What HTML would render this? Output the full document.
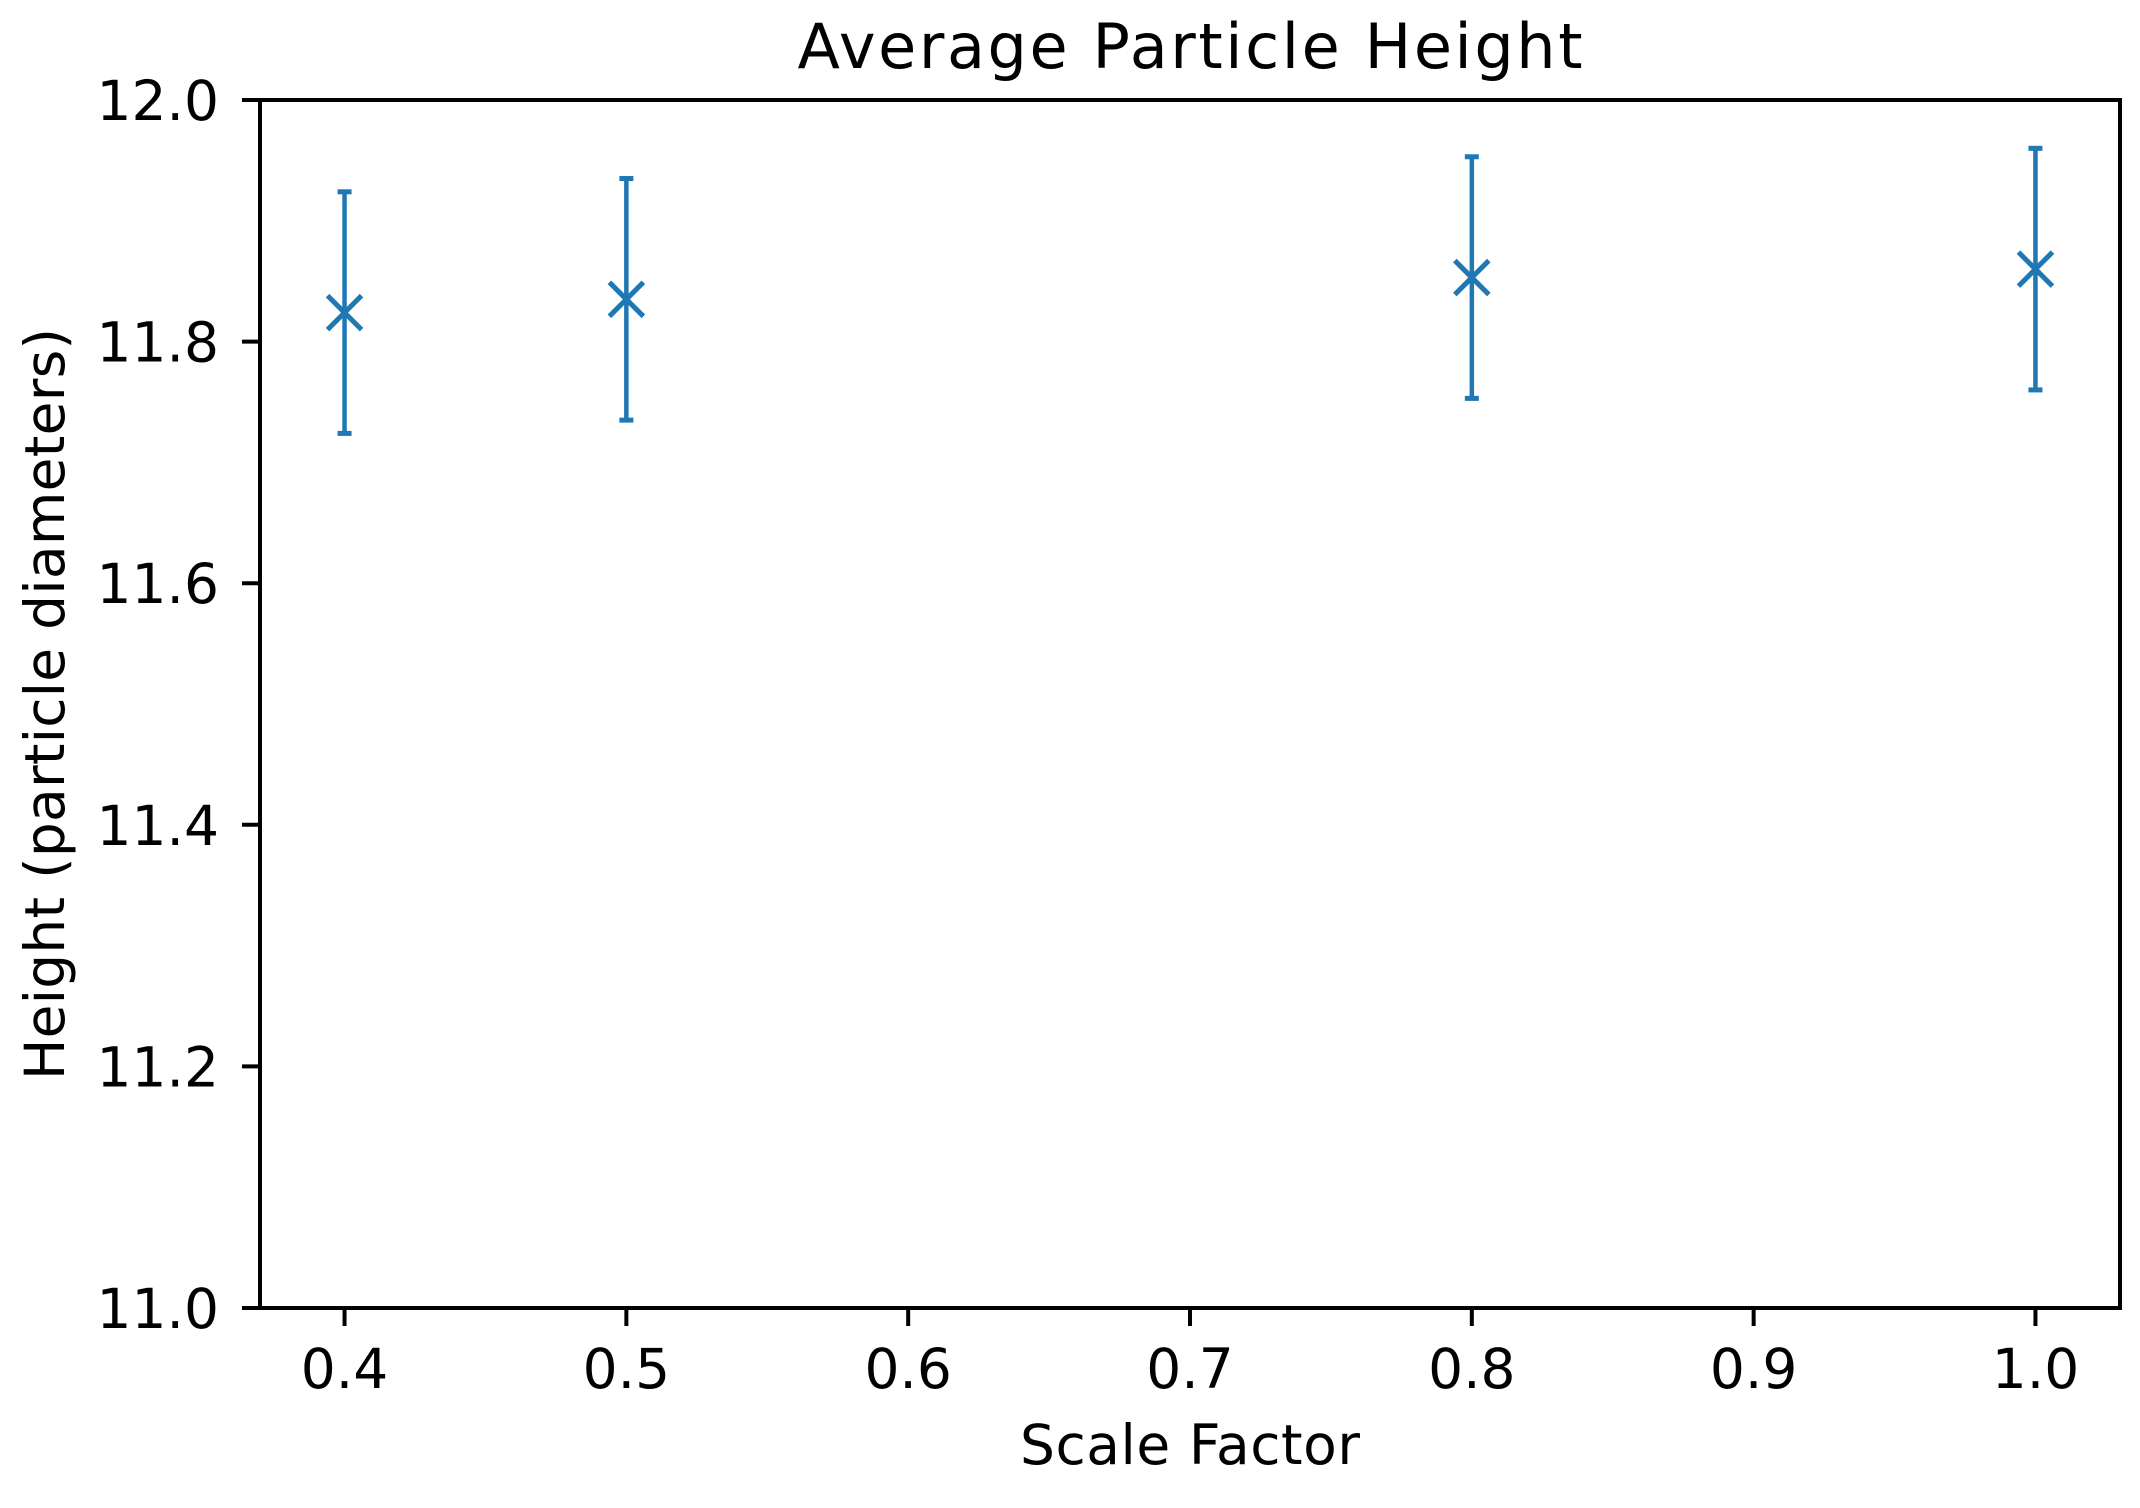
<!DOCTYPE html>
<html><head><meta charset="utf-8"><style>body{margin:0;background:#fff}svg{display:block}</style></head>
<body>
<svg id="chart" width="2140" height="1508" xmlns="http://www.w3.org/2000/svg" font-family="DejaVu Sans, Liberation Sans, sans-serif">
<rect width="2140" height="1508" fill="#fff"/>
<text x="1190" y="68" font-size="62" text-anchor="middle" textLength="785">Average Particle Height</text>
<text x="1190" y="1464" font-size="55" text-anchor="middle" textLength="340">Scale Factor</text>
<text transform="translate(64,704) rotate(-90)" font-size="55" text-anchor="middle" textLength="752">Height (particle diameters)</text>
<g id="ticks"></g>
<g id="marks"></g>
<rect x="260" y="100" width="1860" height="1208" fill="none" stroke="#000" stroke-width="4"/>
</svg>
<script>
const xs=[0.4,0.5,0.8,1.0];
const ys=[11.824,11.835,11.853,11.860];
const errs=[0.1,0.1,0.1,0.1];
const xTicks=[0.4,0.5,0.6,0.7,0.8,0.9,1.0];
const xTickLabels=["0.4","0.5","0.6","0.7","0.8","0.9","1.0"];
const yTicks=[11.0,11.2,11.4,11.6,11.8,12.0];
const yTickLabels=["11.0","11.2","11.4","11.6","11.8","12.0"];
const L=260,R=2120,T=100,B=1308,xmin=0.37,xmax=1.03,ymin=11,ymax=12;
const X=v=>L+(v-xmin)/(xmax-xmin)*(R-L);
const Y=v=>B-(v-ymin)/(ymax-ymin)*(B-T);
const NS="http://www.w3.org/2000/svg";
function mk(tag,attrs,parent){const e=document.createElementNS(NS,tag);for(const k in attrs)e.setAttribute(k,attrs[k]);parent.appendChild(e);return e;}
const tg=document.getElementById('ticks'),mg=document.getElementById('marks');
xTicks.forEach((v,i)=>{
 const l=mk('line',{x1:X(v),x2:X(v),y1:B,y2:B+18,stroke:'#000','stroke-width':4},tg);
 
 
 const t=mk('text',{x:X(v),y:1388,'font-size':55,'text-anchor':'middle'},tg);t.textContent=xTickLabels[i];
 
 
});
yTicks.forEach((v,i)=>{
 const l=mk('line',{x1:L-18,x2:L,y1:Y(v),y2:Y(v),stroke:'#000','stroke-width':4},tg);
 
 
 const t=mk('text',{x:219,y:Y(v)+20,'font-size':55,'text-anchor':'end'},tg);t.textContent=yTickLabels[i];
 
 
});
const c='#1f77b4';
xs.forEach((v,i)=>{
 const g=mk('g',{},mg);
 
 
 const x=X(v),y=Y(ys[i]),y1=Y(ys[i]+errs[i]),y2=Y(ys[i]-errs[i]);
 mk('line',{x1:x,x2:x,y1:y1,y2:y2,stroke:c,'stroke-width':4.5},g);
 mk('line',{x1:x-7,x2:x+7,y1:y1,y2:y1,stroke:c,'stroke-width':5},g);
 mk('line',{x1:x-7,x2:x+7,y1:y2,y2:y2,stroke:c,'stroke-width':5},g);
 mk('path',{d:`M${x-17},${y-17}L${x+17},${y+17}M${x-17},${y+17}L${x+17},${y-17}`,stroke:c,'stroke-width':5,fill:'none'},g);
});
</script>
</body></html>
